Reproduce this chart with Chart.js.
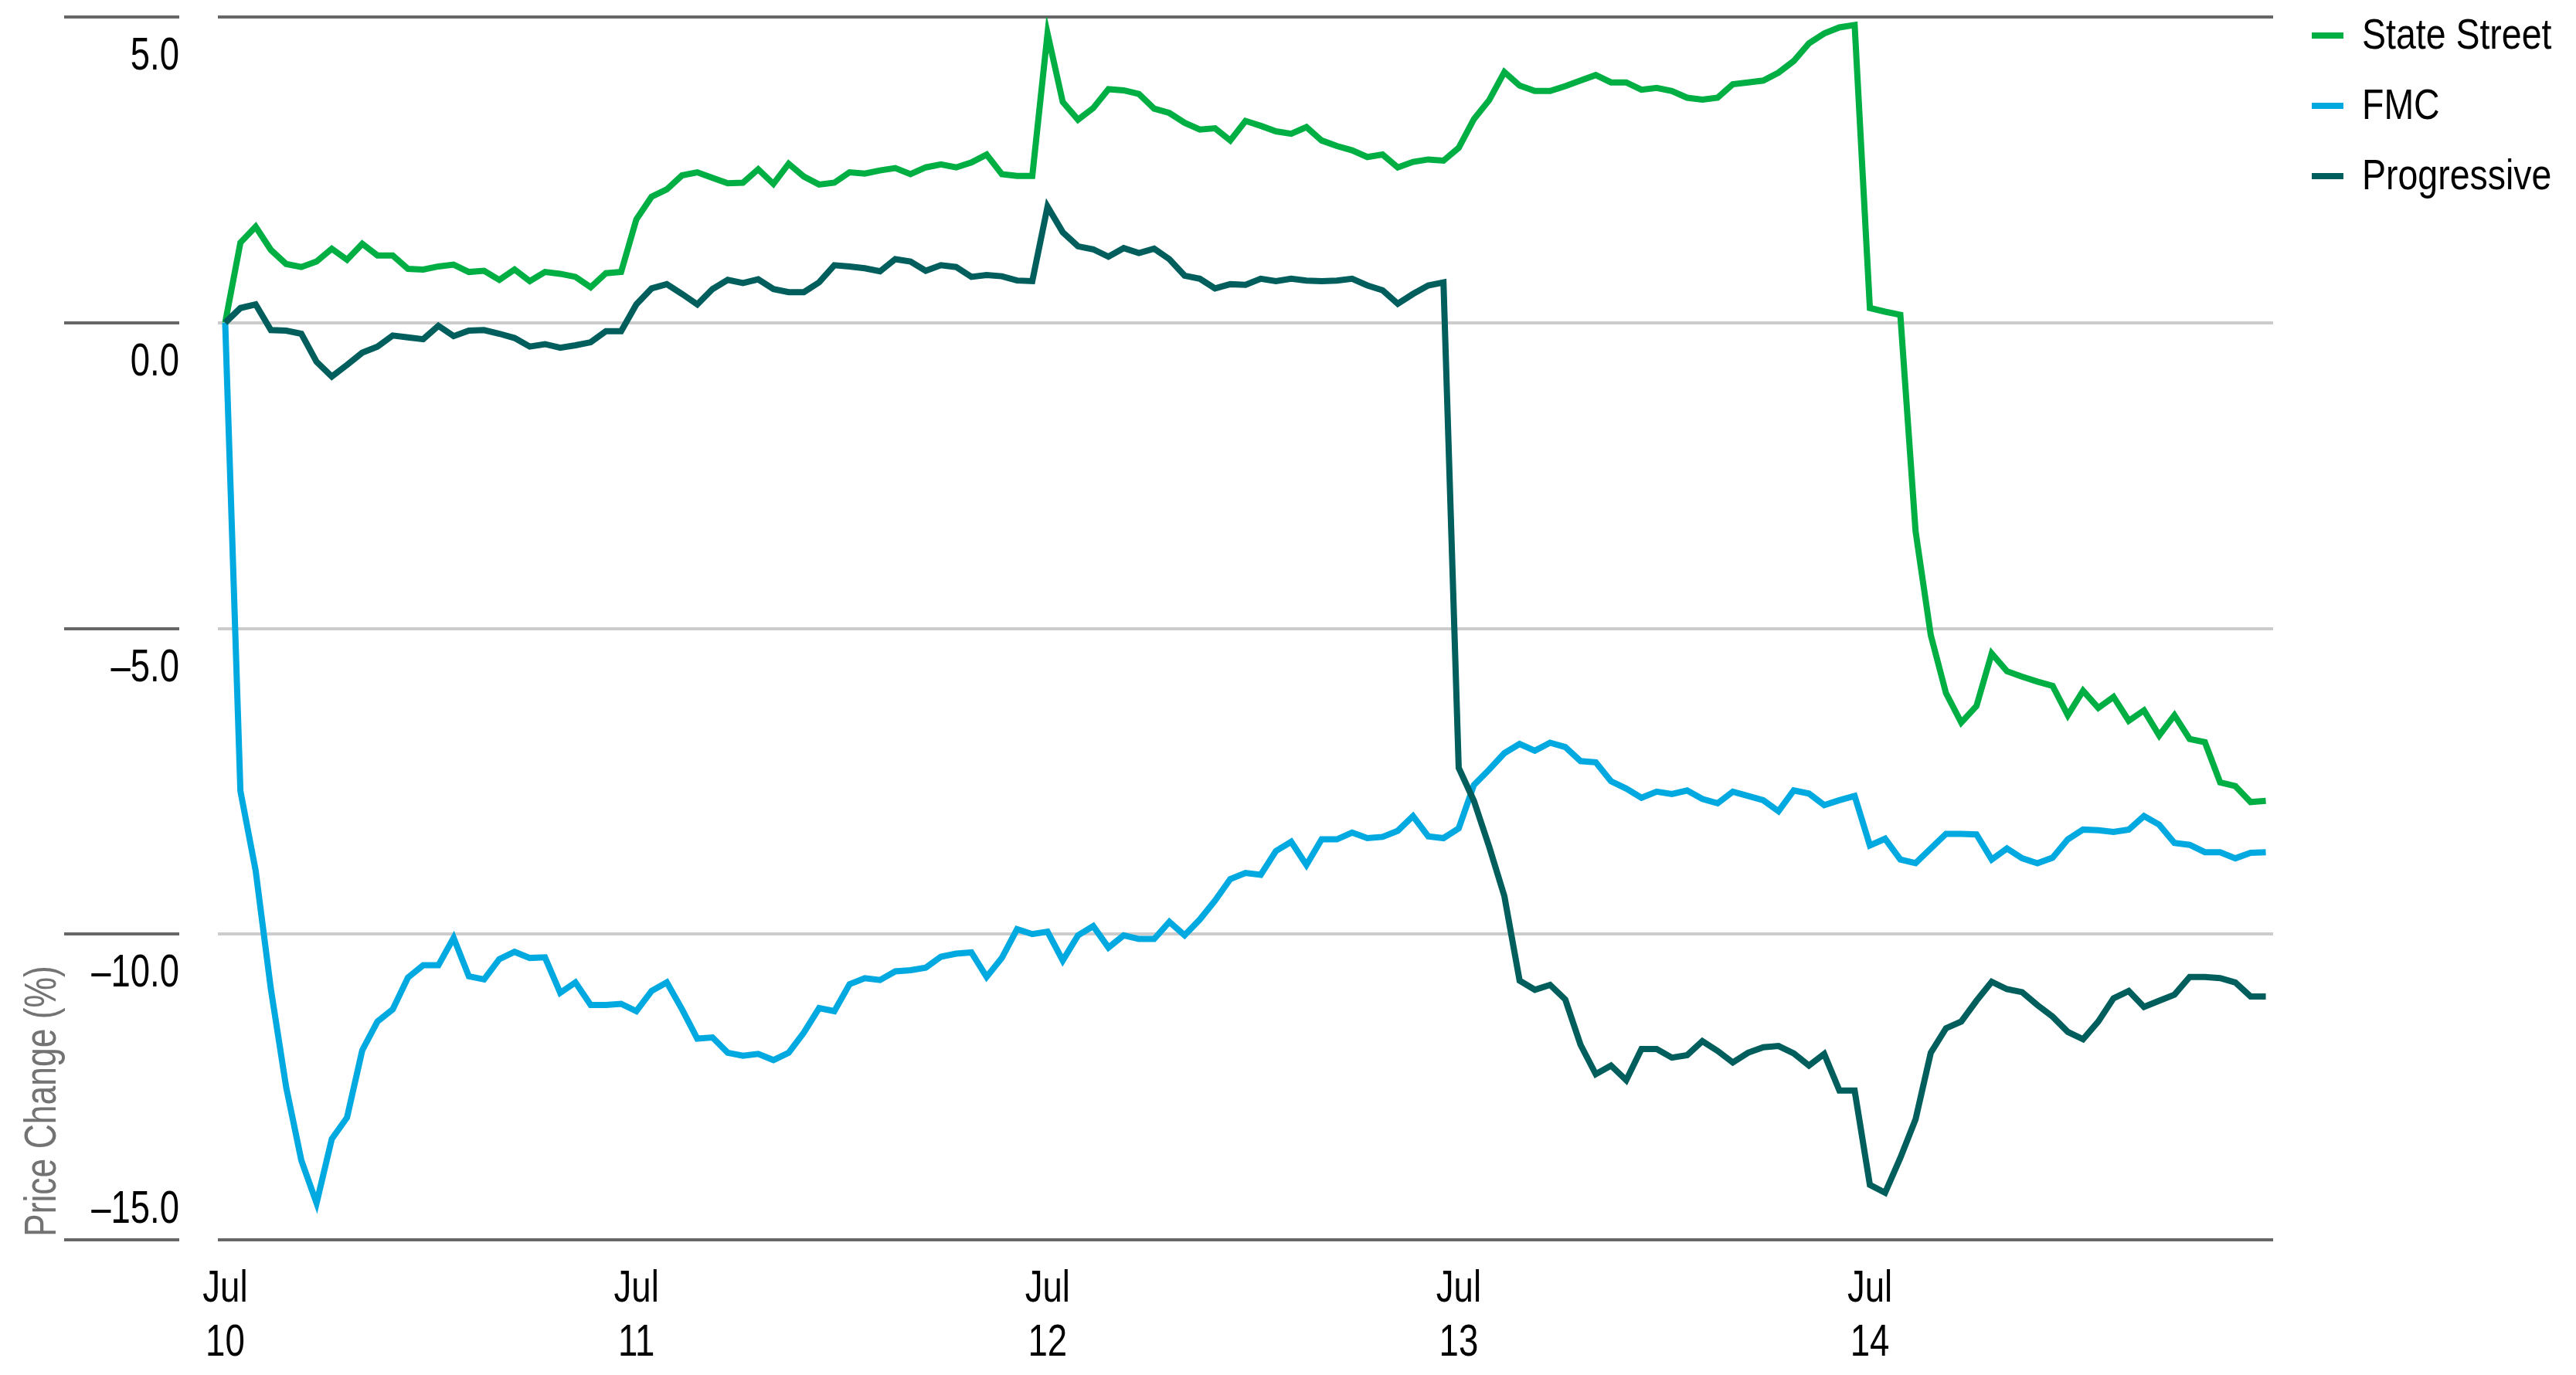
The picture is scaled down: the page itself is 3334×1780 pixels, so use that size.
<!DOCTYPE html>
<html lang="en">
<head>
<meta charset="utf-8">
<title>Price Change (%)</title>
<script src="https://cdn.jsdelivr.net/npm/chart.js@4.4.1/dist/chart.umd.min.js"></script>
<style>
  html, body { margin: 0; padding: 0; background: #fff; }
  #wrap { width: 3334px; height: 1780px; }
</style>
</head>
<body>
<div id="wrap"><canvas id="priceChart" width="3334" height="1780"></canvas></div>
<script>
// Datos: 5 sesiones, 27 lecturas por sesión
const sessionLabels = [['Jul', '10'], ['Jul', '11'], ['Jul', '12'], ['Jul', '13'], ['Jul', '14']];
const sessionStarts = [0, 27, 54, 81, 108];
const yTicks = [5, 0, -5, -10, -15];
const seriesNames = ['State Street', 'FMC', 'Progressive'];
const seriesColors = ['#00af43', '#00a9e0', '#005f5d'];

const stateStreet = [
    0, 1.31, 1.57, 1.19, 0.96, 0.91, 1.00, 1.21, 1.03, 1.29, 1.10, 1.10, 0.88, 0.87, 0.92, 0.95, 0.83, 0.85, 0.70, 0.87, 0.68, 0.83, 0.80, 0.75, 0.58, 0.81, 0.83,
    1.69, 2.06, 2.18, 2.41, 2.46, 2.37, 2.28, 2.29, 2.51, 2.27, 2.60, 2.39, 2.26, 2.29, 2.46, 2.44, 2.49, 2.53, 2.43, 2.54, 2.59, 2.54, 2.62, 2.75, 2.43, 2.40, 2.40,
    4.73, 3.61, 3.32, 3.51, 3.82, 3.80, 3.74, 3.50, 3.43, 3.27, 3.16, 3.18, 2.98, 3.30, 3.22, 3.13, 3.09, 3.20, 2.98, 2.89, 2.82, 2.71, 2.75, 2.54, 2.63, 2.67, 2.65,
    2.86, 3.33, 3.64, 4.10, 3.88, 3.79, 3.79, 3.87, 3.96, 4.05, 3.93, 3.93, 3.81, 3.84, 3.79, 3.68, 3.65, 3.68, 3.90, 3.93, 3.96, 4.09, 4.28, 4.57, 4.73, 4.83, 4.87,
    0.24, 0.18, 0.13, -3.41, -5.11, -6.06, -6.54, -6.27, -5.41, -5.70, -5.79, -5.87, -5.94, -6.42, -6.02, -6.30, -6.12, -6.51, -6.34, -6.75, -6.42, -6.81, -6.86, -7.52, -7.58, -7.84, -7.82
];

const fmc = [
    0, -7.66, -8.96, -10.90, -12.50, -13.70, -14.40, -13.35, -13.00, -11.90, -11.43, -11.23, -10.71, -10.51, -10.51, -10.06, -10.69, -10.74, -10.41, -10.29, -10.39, -10.38, -10.96, -10.79, -11.16, -11.16, -11.14,
    -11.26, -10.93, -10.79, -11.23, -11.71, -11.69, -11.94, -11.99, -11.96, -12.06, -11.94, -11.61, -11.21, -11.26, -10.82, -10.72, -10.75, -10.61, -10.59, -10.55, -10.37, -10.32, -10.30, -10.70, -10.39, -9.92, -10.00,
    -9.96, -10.43, -10.02, -9.87, -10.22, -10.02, -10.08, -10.08, -9.80, -10.02, -9.76, -9.45, -9.10, -9.00, -9.03, -8.64, -8.49, -8.87, -8.45, -8.45, -8.34, -8.43, -8.41, -8.31, -8.07, -8.40, -8.43,
    -8.27, -7.56, -7.31, -7.04, -6.89, -7.00, -6.87, -6.94, -7.17, -7.19, -7.50, -7.62, -7.77, -7.67, -7.71, -7.65, -7.79, -7.86, -7.67, -7.74, -7.81, -7.99, -7.65, -7.70, -7.89, -7.81, -7.74,
    -8.55, -8.44, -8.78, -8.84, -8.60, -8.36, -8.36, -8.37, -8.78, -8.60, -8.76, -8.84, -8.75, -8.45, -8.29, -8.30, -8.33, -8.29, -8.07, -8.21, -8.51, -8.54, -8.66, -8.66, -8.76, -8.67, -8.66
];

const progressive = [
    0, 0.24, 0.30, -0.12, -0.13, -0.18, -0.64, -0.88, -0.69, -0.49, -0.39, -0.21, -0.24, -0.27, -0.05, -0.22, -0.13, -0.12, -0.18, -0.25, -0.39, -0.35, -0.41, -0.37, -0.32, -0.14, -0.14,
    0.30, 0.56, 0.63, 0.47, 0.30, 0.55, 0.70, 0.65, 0.71, 0.55, 0.50, 0.50, 0.66, 0.94, 0.92, 0.89, 0.84, 1.04, 1.00, 0.85, 0.94, 0.91, 0.75, 0.78, 0.76, 0.69, 0.68,
    1.90, 1.48, 1.25, 1.20, 1.08, 1.22, 1.14, 1.21, 1.04, 0.77, 0.72, 0.56, 0.63, 0.62, 0.72, 0.68, 0.72, 0.69, 0.68, 0.69, 0.72, 0.61, 0.53, 0.31, 0.47, 0.61, 0.66,
    -7.28, -7.82, -8.57, -9.38, -10.76, -10.91, -10.83, -11.07, -11.81, -12.29, -12.15, -12.39, -11.88, -11.88, -12.02, -11.98, -11.75, -11.91, -12.10, -11.94, -11.85, -11.83, -11.95, -12.15, -11.96, -12.56, -12.56,
    -14.10, -14.23, -13.66, -13.03, -11.94, -11.54, -11.43, -11.09, -10.78, -10.90, -10.95, -11.16, -11.35, -11.60, -11.72, -11.43, -11.05, -10.93, -11.19, -11.09, -10.99, -10.70, -10.70, -10.72, -10.79, -11.02, -11.02
];

// No hay fuente condensada instalada: se estrecha Liberation Sans a mano
const FONT = "'Liberation Sans', Arial, sans-serif";

function toPoints(values) {
    return values.map((v, i) => ({ x: i, y: v }));
}

function tickText(v) {
    return v.toFixed(1).replace('-', '\u2013');
}

function narrowText(ctx, text, x, y, squeeze) {
    ctx.save();
    ctx.translate(x, y);
    ctx.scale(squeeze, 1);
    ctx.fillText(text, 0, 0);
    ctx.restore();
}

// Rejilla, etiquetas, título del eje y leyenda
const decorPlugin = {
    id: 'decor',
    beforeDatasetsDraw(chart) {
        const { ctx, chartArea, scales } = chart;
        ctx.save();
        ctx.lineWidth = 4;
        yTicks.forEach((v, i) => {
            const py = Math.round(scales.y.getPixelForValue(v));
            const edge = i === 0 || i === yTicks.length - 1;
            ctx.strokeStyle = edge ? '#666666' : '#cccccc';
            ctx.beginPath();
            ctx.moveTo(chartArea.left, py);
            ctx.lineTo(chartArea.right, py);
            ctx.stroke();
            ctx.strokeStyle = '#666666';
            ctx.beginPath();
            ctx.moveTo(83, py);
            ctx.lineTo(232, py);
            ctx.stroke();
        });
        ctx.restore();
    },
    afterDraw(chart) {
        const { ctx, scales } = chart;
        ctx.save();

        // Etiquetas del eje Y
        ctx.fillStyle = '#000';
        ctx.font = '59px ' + FONT;
        ctx.textAlign = 'right';
        ctx.textBaseline = 'alphabetic';
        yTicks.forEach((v, i) => {
            const py = scales.y.getPixelForValue(v);
            const last = i === yTicks.length - 1;
            narrowText(ctx, tickText(v), 232, last ? py - 22 : py + 68, 0.77);
        });

        // Etiquetas del eje X
        ctx.font = '57px ' + FONT;
        ctx.textAlign = 'center';
        sessionStarts.forEach((idx, i) => {
            const px = scales.x.getPixelForValue(idx);
            narrowText(ctx, sessionLabels[i][0], px, 1685, 0.8);
            narrowText(ctx, sessionLabels[i][1], px, 1755, 0.8);
        });

        // Título del eje Y
        ctx.save();
        ctx.fillStyle = '#737373';
        ctx.font = '57px ' + FONT;
        ctx.textAlign = 'left';
        ctx.translate(72, 1601);
        ctx.rotate(-Math.PI / 2);
        narrowText(ctx, 'Price Change (%)', 0, 0, 0.78);
        ctx.restore();

        // Leyenda
        ctx.font = '56px ' + FONT;
        ctx.textAlign = 'left';
        ctx.textBaseline = 'middle';
        ctx.lineWidth = 8;
        chart.data.datasets.forEach((ds, i) => {
            const cy = 46 + i * 91;
            ctx.strokeStyle = ds.borderColor;
            ctx.beginPath();
            ctx.moveTo(2992, cy);
            ctx.lineTo(3033, cy);
            ctx.stroke();
            ctx.fillStyle = '#000';
            narrowText(ctx, ds.label, 3057, cy + 2, 0.83);
        });
        ctx.restore();
    }
};

document.addEventListener('DOMContentLoaded', function() {
    const series = [stateStreet, fmc, progressive];
    const ctx = document.getElementById('priceChart').getContext('2d');
    new Chart(ctx, {
        type: 'line',
        data: {
            datasets: series.map((values, i) => ({
                label: seriesNames[i],
                data: toPoints(values),
                borderColor: seriesColors[i],
                borderWidth: 8,
                pointRadius: 0,
                tension: 0,
                fill: false,
                order: series.length - i
            }))
        },
        options: {
            responsive: false,
            animation: false,
            devicePixelRatio: 1,
            layout: {
                padding: { left: 282, right: 392, top: 22, bottom: 175 }
            },
            plugins: {
                legend: { display: false },
                tooltip: { enabled: false }
            },
            scales: {
                x: {
                    type: 'linear',
                    min: -0.48,
                    max: 134.48,
                    display: false
                },
                y: {
                    min: -15,
                    max: 5,
                    display: false
                }
            }
        },
        plugins: [decorPlugin]
    });
});
</script>
</body>
</html>
